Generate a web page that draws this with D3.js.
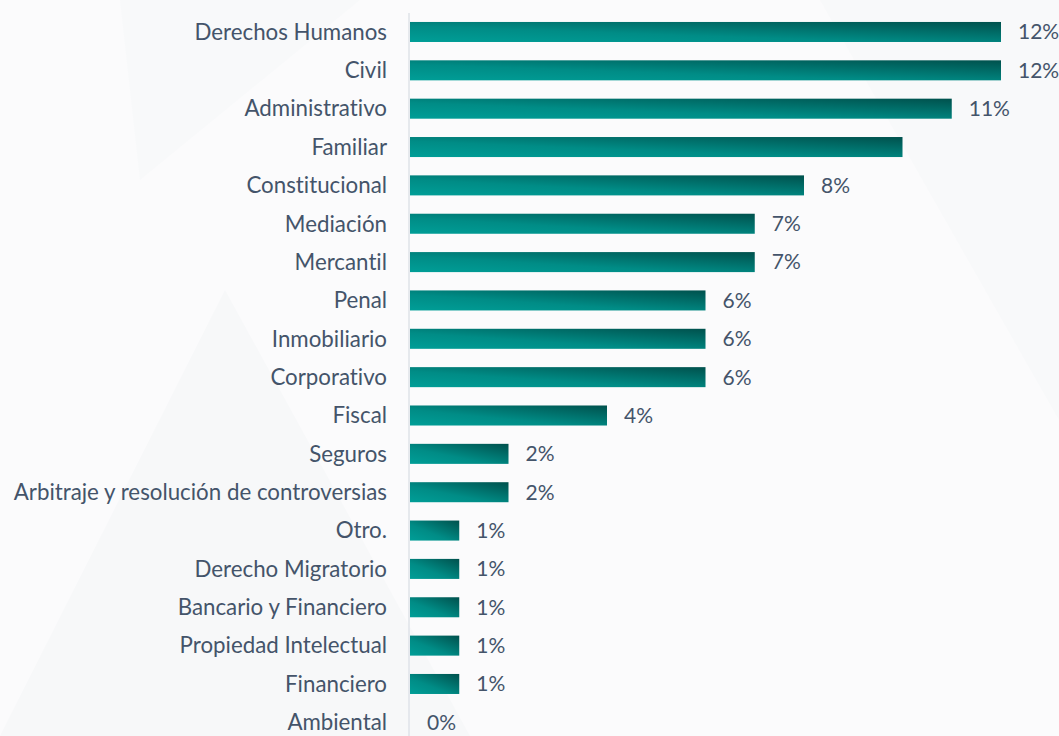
<!DOCTYPE html>
<html>
<head>
<meta charset="utf-8">
<script src="https://cdn.jsdelivr.net/npm/d3@7"></script>
<style>
    html, body { margin: 0; padding: 0; background: #fbfbfc; }
    svg { display: block; }
    text { font-variant-ligatures: none; font-feature-settings: "liga" 0; }
</style>
</head>
<body>
<svg id="chart" width="1059" height="736"></svg>
<script>
const categories = [
    "Derechos Humanos", "Civil", "Administrativo", "Familiar", "Constitucional",
    "Mediación", "Mercantil", "Penal", "Inmobiliario", "Corporativo", "Fiscal",
    "Seguros", "Arbitraje y resolución de controversias", "Otro.",
    "Derecho Migratorio", "Bancario y Financiero", "Propiedad Intelectual",
    "Financiero", "Ambiental"
];
const values = [12, 12, 11, 10, 8, 7, 7, 6, 6, 6, 4, 2, 2, 1, 1, 1, 1, 1, 0];
// the picture shows no value label on "Familiar"
const showLabel = [true, true, true, false, true, true, true, true, true, true,
    true, true, true, true, true, true, true, true, true];

const width = 1059, height = 736;
const textColor = "#44546a";
const font = "Lato, 'Open Sans', sans-serif";

const svg = d3.select("#chart");

// faint background shapes
const bg = svg.append("g");
bg.append("path").attr("d", "M0,736 L225,290 L470,736 Z").attr("fill", "#f7f8f9");
bg.append("path").attr("d", "M120,0 L360,0 L140,180 Z").attr("fill", "#f8f9fa");
bg.append("path").attr("d", "M820,0 L1059,0 L1059,420 Z").attr("fill", "#f8f9fa");

const defs = svg.append("defs");
const grad = defs.append("linearGradient")
    .attr("id", "barGrad")
    .attr("x1", 0).attr("y1", 1)
    .attr("x2", 1).attr("y2", 0);
grad.append("stop").attr("offset", "0%").attr("stop-color", "#009e97");
grad.append("stop").attr("offset", "40%").attr("stop-color", "#008c86");
grad.append("stop").attr("offset", "100%").attr("stop-color", "#00514d");

const x = d3.scaleLinear().domain([0, 12]).range([410, 1001]);
const y = d3.scaleBand()
    .domain(categories)
    .range([12.8, 741.5])
    .paddingInner(0.478)
    .paddingOuter(0.239);

const rows = categories.map((c, i) => ({ cat: c, val: values[i], show: showLabel[i] }));

// vertical axis line
svg.append("line")
    .attr("x1", 409).attr("x2", 409)
    .attr("y1", 13).attr("y2", height)
    .attr("stroke", "#dfe3e9")
    .attr("stroke-width", 1.5);

// bars
svg.append("g").selectAll("rect")
    .data(rows)
    .join("rect")
    .attr("x", x(0))
    .attr("y", d => y(d.cat))
    .attr("width", d => x(d.val) - x(0))
    .attr("height", y.bandwidth())
    .attr("fill", "url(#barGrad)");

// category labels
svg.append("g").selectAll("text")
    .data(rows)
    .join("text")
    .attr("x", 387)
    .attr("y", d => y(d.cat) + y.bandwidth() / 2)
    .attr("dy", "0.35em")
    .attr("text-anchor", "end")
    .attr("fill", textColor)
    .attr("font-family", font)
    .attr("font-size", "22.3px")
    .text(d => d.cat);

// value labels
svg.append("g").selectAll("text")
    .data(rows.filter(d => d.show))
    .join("text")
    .attr("x", d => x(d.val) + 17)
    .attr("y", d => y(d.cat) + y.bandwidth() / 2)
    .attr("dy", "0.35em")
    .attr("fill", textColor)
    .attr("font-family", font)
    .attr("font-size", "21px")
    .text(d => d.val + "%");
</script>
</body>
</html>
